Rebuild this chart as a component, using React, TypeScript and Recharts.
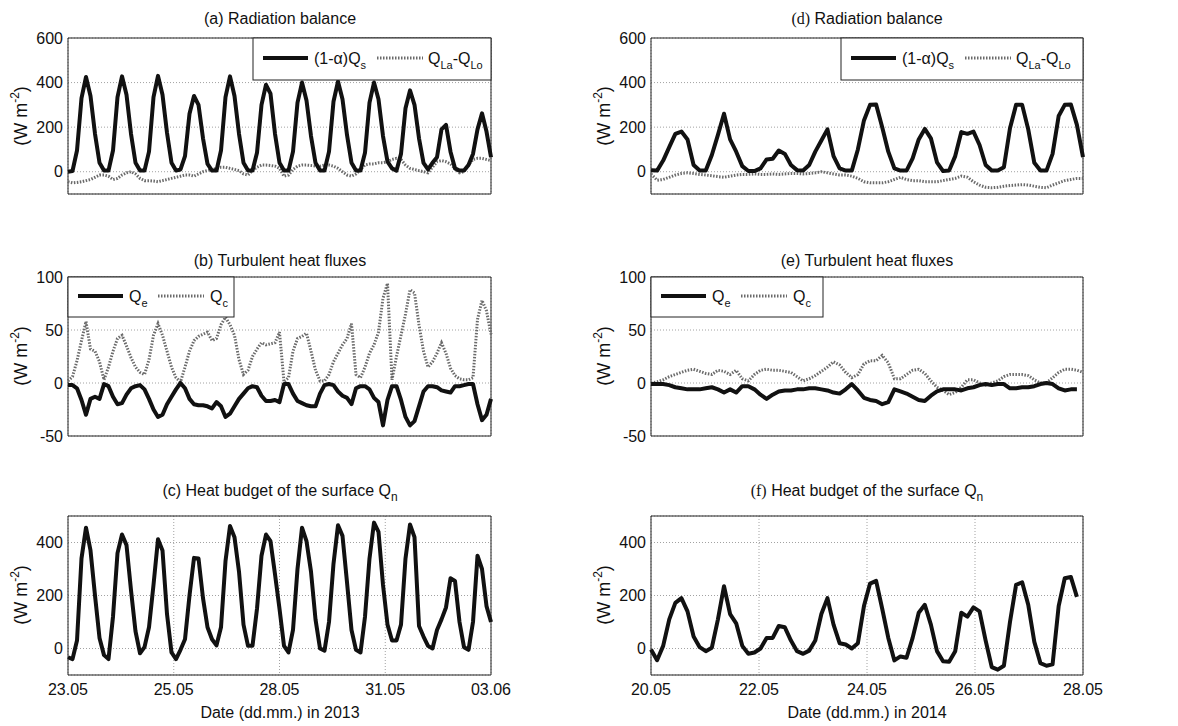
import { CartesianGrid, Line, LineChart, ReferenceArea, XAxis, YAxis } from "recharts";

// 3-hourly samples, time in days from the first tick
const STEP = 0.125;
const FONT = '"Liberation Sans", Arial, Helvetica, sans-serif';
const SERIF = '"Liberation Serif", "Times New Roman", serif';

const datesLeft = ["23.05", "25.05", "28.05", "31.05", "03.06"];
const datesRight = ["20.05", "22.05", "24.05", "26.05", "28.05"];
const spanLeft = 11.75;
const spanRight = 8.875;

// 2013 (left column)
const qsLeft = [
  0, 3, 95, 330, 425, 340, 170, 40,
  5, 5, 95, 335, 428, 345, 170, 40,
  5, 5, 90, 335, 430, 345, 175, 40,
  5, 10, 70, 260, 340, 300, 150, 35,
  5, 5, 95, 335, 428, 340, 170, 40,
  5, 5, 85, 300, 390, 350, 170, 40,
  5, 5, 90, 310, 400, 320, 160, 40,
  5, 5, 90, 315, 405, 325, 165, 40,
  5, 5, 85, 310, 400, 325, 160, 45,
  15, 5, 80, 285, 365, 300, 150, 40,
  10, 40, 65, 190, 210, 90, 15, 5,
  5, 30, 80, 190, 262, 180, 65,
];
const qlLeft = [
  -45, -50, -48, -45, -40, -35, -25, -15,
  -15, -20, -35, -30, -15, -5, 0, -10,
  -30, -40, -40, -42, -45, -40, -35, -30,
  -25, -20, -15, -15, -20, -10, 0, 5,
  10, 15, 20, 20, 15, 10, 5, -10,
  -15, 5, 20, 30, 30, 28, 25, 15,
  -20, -15, 10, 25, 30, 30, 28, 25,
  25, 30, 30, 25, 15, 0, -15, -20,
  -10, 10, 30, 35, 35, 40, 40, 45,
  55, 60, 55, 30, 15, 10, 5, 0,
  -5, 20, 45, 50, 45, 35, 15, -5,
  0, 30, 55, 60, 60, 55, 50,
];
const qeLeft = [
  -2, -2, -5, -16, -30, -15, -13, -15,
  -1, -3, -13, -20, -19, -11, -5, -3,
  -2, -6, -15, -25, -32, -30, -20, -13,
  -6, 0, -5, -15, -20, -21, -21, -22,
  -24, -18, -22, -32, -29, -22, -15, -10,
  -5, -3, -4, -12, -17, -17, -16, -18,
  -1, -1, -10, -17, -19, -21, -22, -22,
  -10, -2, -1, -2, -8, -12, -14, -20,
  -5, -3, -3, -6, -14, -18, -40, -16,
  -3, -3, -16, -32, -40, -36, -22, -8,
  -3, -3, -4, -7, -8, -9, -3, -3,
  -2, -1, -1, -20, -35, -30, -15,
];
const qcLeft = [
  2, 6, 21, 40, 58, 32, 30, 20,
  3, 15, 30, 42, 45, 35, 24, 15,
  10, 8, 22, 45, 56, 45, 30, 15,
  5, 1, 15, 30, 40, 44, 46, 48,
  40, 42, 55, 62, 55, 45, 22, 8,
  12, 25, 32, 38, 36, 37, 38, 48,
  1, 5, 30, 42, 44, 47, 30, 12,
  2, 2, 8, 20, 28, 36, 42, 56,
  8, 5, 15, 28, 36, 48, 80, 94,
  3, 25, 45, 65, 88, 85, 55, 30,
  15, 20, 28, 38, 28, 14, 7, 4,
  3, 3, 5, 60, 78, 68, 46,
];
const qnLeft = [
  -33, -40, 30, 340, 456, 370, 200, 40,
  -25, -40, 120, 360, 430, 390, 220, 65,
  -18, 5, 80, 240, 412, 370, 130, -15,
  -40, -5, 35, 200, 342, 340, 190, 80,
  35, 12, 80, 330, 462, 420, 290, 90,
  10, 10, 150, 350, 430, 405, 280, 150,
  10, -15, 70, 300, 456, 405, 290, 110,
  0, -8, 100, 320, 465, 425, 250, 70,
  -5, -15, 120, 340, 475, 440, 240, 90,
  30, 30, 90, 340, 468, 420, 85, 45,
  10, 0, 70, 110, 155, 265, 255, 100,
  5, -5, 100, 350, 300, 160, 100,
];

// 2014 (right column)
const qsRight = [
  7, 5, 50, 110, 170, 180, 145, 30,
  5, 5, 75, 165, 260, 145, 90, 25,
  3, 3, 15, 55, 58, 95, 80, 30,
  7, 5, 30, 90, 140, 190, 70, 15,
  5, 5, 100, 230, 300, 302, 200, 90,
  15, 5, 5, 60, 145, 192, 150, 42,
  3, 5, 70, 178, 170, 180, 120, 30,
  5, 5, 20, 195, 300, 300, 190, 40,
  5, 5, 80, 250, 300, 302, 210, 65,
];
const qlRight = [
  -10, -38, -35, -25, -15, -8, -5, -8,
  -12, -15, -18, -22, -25, -20, -15, -12,
  -12, -10, -12, -12, -10, -12, -10, -8,
  -8, -10, -8, -5, 0, -5, -10, -15,
  -15, -20, -30, -45, -50, -50, -50, -45,
  -35, -25, -35, -40, -40, -45, -45, -45,
  -40, -35, -30, -20, -25, -45, -60, -70,
  -72, -70, -65, -62, -60, -58, -60, -65,
  -70, -72, -60, -50, -40, -35, -30, -30,
];
const qeRight = [
  -1, -1, -1, -2, -4, -5, -6, -6,
  -6, -5, -4, -6, -9, -6, -9, -3,
  -3, -6, -11, -15, -11, -8, -7, -7,
  -6, -6, -5, -5, -6, -7, -9, -10,
  -6, -1, -7, -14, -16, -17, -20, -18,
  -6, -8, -10, -13, -16, -17, -12, -8,
  -6, -6, -6, -7, -5, -4, -2, -1,
  -2, -1, -1, -5, -5, -4, -4, -3,
  -1, 0, -1, -5, -7, -6, -6, null,
];
const qcRight = [
  0, 1, 3, 6, 8, 10, 12, 13,
  11, 9, 8, 12, 11, 8, 12, 4,
  2, 8, 12, 13, 12, 12, 11, 10,
  6, 2, 4, 7, 11, 15, 20, 17,
  10, 5, 8, 18, 21, 21, 26, 19,
  4, 4, 8, 12, 13, 9, 2, -4,
  -7, -11, -9, -4, 3, 3, 0, -2,
  0, 2, 6, 8, 8, 8, 7, 3,
  0, 0, 5, 10, 13, 13, 12, 10,
];
const qnRight = [
  -4, -44, 10, 110, 172, 190, 140, 45,
  5, -10, 3, 110, 235, 130, 95, 10,
  -20, -15, 0, 40, 40, 85, 80, 30,
  -10, -20, -8, 30, 130, 190, 90, 20,
  15, 0, 20, 160, 245, 255, 150, 40,
  -45, -30, -35, 40, 135, 165, 90, -10,
  -48, -50, -10, 135, 120, 155, 140, 30,
  -70, -80, -65, 100, 240, 250, 165, 25,
  -55, -65, -60, 160, 265, 270, 195, null,
];

type Row = Record<string, number | null>;

function toRows(series: Record<string, (number | null)[]>): Row[] {
  const keys = Object.keys(series);
  const n = Math.max(...keys.map((k) => series[k].length));
  return Array.from({ length: n }, (_, i) => {
    const row: Row = { t: i * STEP };
    keys.forEach((k) => {
      const v = series[k][i];
      row[k] = v === undefined ? null : v;
    });
    return row;
  });
}

const leftRows = toRows({ qs: qsLeft, ql: qlLeft, qe: qeLeft, qc: qcLeft, qn: qnLeft });
const rightRows = toRows({ qs: qsRight, ql: qlRight, qe: qeRight, qc: qcRight, qn: qnRight });

const ML = 60;
const MR = 28;
const MT = 10;
const MB = 30;

interface PanelProps {
  x: number;
  y: number;
  w: number;
  h: number;
  data: Row[];
  span: number;
  dates: string[];
  showDates: boolean;
  yDomain: [number, number];
  yTicks: number[];
  solidKey: string;
  dottedKey?: string;
}

function Panel({ x, y, w, h, data, span, dates, showDates, yDomain, yTicks, solidKey, dottedKey }: PanelProps) {
  const xTicks = dates.map((_, i) => (span * i) / (dates.length - 1));
  const tickStyle = { fontSize: 16, fill: "#111", fontFamily: FONT };
  return (
    <div style={{ position: "absolute", left: x - ML, top: y - MT }}>
      <LineChart width={w + ML + MR} height={h + MT + MB} data={data} margin={{ top: MT, right: MR, bottom: 0, left: 0 }}>
        <CartesianGrid stroke="#8a8a8a" strokeDasharray="1 2" strokeWidth={0.8} />
        <XAxis
          type="number"
          dataKey="t"
          domain={[0, span]}
          ticks={xTicks}
          interval={0}
          height={MB}
          axisLine={false}
          tickLine={false}
          tickSize={6}
          tickMargin={3}
          tick={showDates ? tickStyle : false}
          tickFormatter={(v: number) => dates[xTicks.findIndex((t) => Math.abs(t - v) < 1e-6)] ?? ""}
        />
        <YAxis
          type="number"
          domain={yDomain}
          ticks={yTicks}
          interval={0}
          width={ML}
          axisLine={false}
          tickLine={false}
          tickSize={3}
          tickMargin={2}
          tick={tickStyle}
          allowDataOverflow
        />
        {dottedKey && (
          <Line
            type="linear"
            dataKey={dottedKey}
            stroke="#6a6a6a"
            strokeWidth={3}
            strokeDasharray="1.5 1.5"
            dot={false}
            activeDot={false}
            isAnimationActive={false}
          />
        )}
        <Line
          type="linear"
          dataKey={solidKey}
          stroke="#111"
          strokeWidth={4}
          strokeLinejoin="round"
          dot={false}
          activeDot={false}
          isAnimationActive={false}
        />
        <ReferenceArea
          x1={0}
          x2={span}
          y1={yDomain[0]}
          y2={yDomain[1]}
          fill="none"
          stroke="#222"
          strokeWidth={1}
          ifOverflow="visible"
        />
      </LineChart>
    </div>
  );
}

function YLabel({ x, y }: { x: number; y: number }) {
  return (
    <text transform={`translate(${x},${y}) rotate(-90)`} textAnchor="middle" fontSize={18} fontFamily={FONT} fill="#111">
      (W m<tspan dy={-8} fontSize={12}>-2</tspan>
      <tspan dy={8}>)</tspan>
    </text>
  );
}

function SolidSample({ x1, x2, y }: { x1: number; x2: number; y: number }) {
  return <line x1={x1} x2={x2} y1={y} y2={y} stroke="#111" strokeWidth={4} />;
}

function DottedSample({ x1, x2, y }: { x1: number; x2: number; y: number }) {
  return <line x1={x1} x2={x2} y1={y} y2={y} stroke="#6a6a6a" strokeWidth={3} strokeDasharray="1.5 1.5" />;
}

function RadLegend({ x, y, w }: { x: number; y: number; w: number }) {
  const cy = y + 20;
  return (
    <g>
      <rect x={x} y={y} width={w} height={42} fill="#fff" stroke="#222" strokeWidth={1} />
      <SolidSample x1={x + 10} x2={x + 55} y={cy} />
      <text x={x + 61} y={cy + 6} fontSize={16} fontFamily={FONT} fill="#111">
        (1-α)Q<tspan dy={5} fontSize={11}>s</tspan>
      </text>
      <DottedSample x1={x + 124} x2={x + 170} y={cy} />
      <text x={x + 175} y={cy + 6} fontSize={16} fontFamily={FONT} fill="#111">
        Q<tspan dy={5} fontSize={11}>La</tspan>
        <tspan dy={-5}>-Q</tspan>
        <tspan dy={5} fontSize={11}>Lo</tspan>
      </text>
    </g>
  );
}

function TurbLegend({ x, y, w }: { x: number; y: number; w: number }) {
  const cy = y + 19;
  return (
    <g>
      <rect x={x} y={y} width={w} height={40} fill="#fff" stroke="#222" strokeWidth={1} />
      <SolidSample x1={x + 10} x2={x + 55} y={cy} />
      <text x={x + 61} y={cy + 6} fontSize={16} fontFamily={FONT} fill="#111">
        Q<tspan dy={5} fontSize={11}>e</tspan>
      </text>
      <DottedSample x1={x + 90} x2={x + 136} y={cy} />
      <text x={x + 142} y={cy + 6} fontSize={16} fontFamily={FONT} fill="#111">
        Q<tspan dy={5} fontSize={11}>c</tspan>
      </text>
    </g>
  );
}

function Overlay() {
  const title = { fontSize: 16, fontFamily: FONT, fill: "#111", textAnchor: "middle" as const };
  return (
    <svg width={1178} height={726} style={{ position: "absolute", left: 0, top: 0, pointerEvents: "none" }}>
      <text x={280} y={24} {...title}>(a) Radiation balance</text>
      <text x={867} y={24} {...title}>
        <tspan fontFamily={SERIF}>(d)</tspan> Radiation balance
      </text>
      <text x={280} y={266} {...title}>(b) Turbulent heat fluxes</text>
      <text x={867} y={266} {...title}>(e) Turbulent heat fluxes</text>
      <text x={280} y={496} {...title}>
        (c) Heat budget of the surface Q<tspan dy={5} fontSize={12}>n</tspan>
      </text>
      <text x={867} y={496} {...title}>
        <tspan fontFamily={SERIF}>(f)</tspan> Heat budget of the surface Q<tspan dy={5} fontSize={12}>n</tspan>
      </text>

      <YLabel x={27} y={116} />
      <YLabel x={27} y={356} />
      <YLabel x={27} y={595} />
      <YLabel x={610} y={116} />
      <YLabel x={610} y={356} />
      <YLabel x={610} y={595} />
      <text x={280} y={718} {...title}>Date (dd.mm.) in 2013</text>
      <text x={867} y={718} {...title}>Date (dd.mm.) in 2014</text>

      <RadLegend x={253} y={38} w={238} />
      <RadLegend x={841} y={38} w={242} />
      <TurbLegend x={68} y={277} w={166} />
      <TurbLegend x={651} y={277} w={172} />
    </svg>
  );
}

export default function App() {
  return (
    <div style={{ position: "absolute", left: 0, top: 0, width: 1178, height: 726, background: "#fff", overflow: "hidden" }}>
      <Panel x={68} y={38} w={423} h={156} data={leftRows} span={spanLeft} dates={datesLeft} showDates={false}
        yDomain={[-100, 600]} yTicks={[0, 200, 400, 600]} solidKey="qs" dottedKey="ql" />
      <Panel x={68} y={277} w={423} h={159} data={leftRows} span={spanLeft} dates={datesLeft} showDates={false}
        yDomain={[-50, 100]} yTicks={[-50, 0, 50, 100]} solidKey="qe" dottedKey="qc" />
      <Panel x={68} y={516} w={423} h={159} data={leftRows} span={spanLeft} dates={datesLeft} showDates
        yDomain={[-100, 500]} yTicks={[0, 200, 400]} solidKey="qn" />
      <Panel x={651} y={38} w={432} h={156} data={rightRows} span={spanRight} dates={datesRight} showDates={false}
        yDomain={[-100, 600]} yTicks={[0, 200, 400, 600]} solidKey="qs" dottedKey="ql" />
      <Panel x={651} y={277} w={432} h={159} data={rightRows} span={spanRight} dates={datesRight} showDates={false}
        yDomain={[-50, 100]} yTicks={[-50, 0, 50, 100]} solidKey="qe" dottedKey="qc" />
      <Panel x={651} y={516} w={432} h={159} data={rightRows} span={spanRight} dates={datesRight} showDates
        yDomain={[-100, 500]} yTicks={[0, 200, 400]} solidKey="qn" />
      <Overlay />
    </div>
  );
}
